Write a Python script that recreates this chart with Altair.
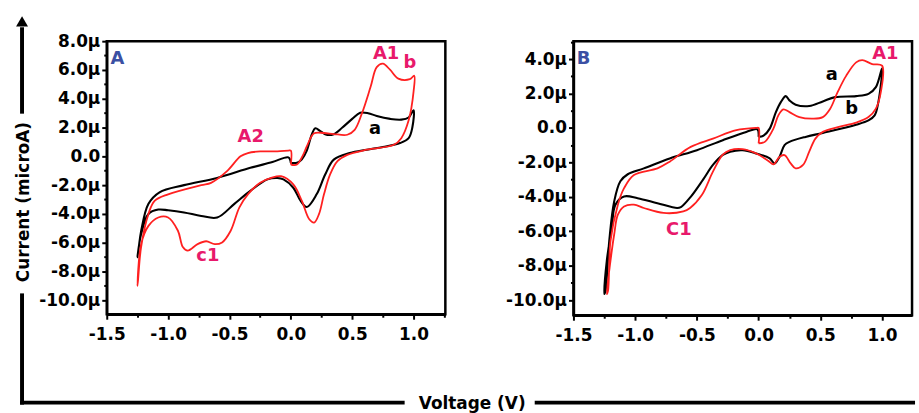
import altair as alt
import pandas as pd

# ---------------- data ----------------
# Panel A, curve a (black)
A_black_V = [0.00, 0.05, 0.09, 0.13, 0.17, 0.20, 0.24, 0.29, 0.35, 0.42, 0.50, 0.565, 0.63, 0.70, 0.81, 0.90, 0.96, 1.00,
             0.99, 0.96, 0.89, 0.75, 0.62, 0.48, 0.35, 0.28, 0.21, 0.13, 0.08, 0.02, -0.06, -0.11, -0.19, -0.33, -0.46,
             -0.60, -0.73, -0.87, -1.00, -1.08, -1.16, -1.22, -1.25,
             -1.24, -1.22, -1.16, -1.07, -0.87, -0.60, -0.33, -0.15, -0.02, 0.00]
A_black_I = [-0.45, -0.45, -0.20, 0.40, 1.50, 1.95, 1.75, 1.50, 1.54, 2.00, 2.60, 3.03, 3.00, 2.80, 2.60, 2.55, 2.70, 3.20,
             2.00, 1.26, 0.92, 0.65, 0.46, 0.23, -0.23, -1.26, -2.64, -3.52, -3.10, -2.18, -1.60, -1.50, -1.60, -2.40, -3.30,
             -4.25, -4.14, -3.90, -3.75, -3.70, -4.00, -5.40, -7.00,
             -6.40, -5.20, -3.30, -2.50, -2.00, -1.50, -0.80, -0.40, -0.07, -0.45]

# Panel A, curve b (red)
A_red_V = [0.00, 0.05, 0.10, 0.13, 0.19, 0.27, 0.35, 0.46, 0.52, 0.58, 0.65, 0.70, 0.75, 0.81, 0.876, 0.97, 1.005,
           1.00, 0.96, 0.90, 0.84, 0.62, 0.46, 0.38, 0.32, 0.27, 0.23, 0.19, 0.15, 0.09, 0.02, -0.08, -0.16, -0.25,
           -0.35, -0.42, -0.49, -0.56, -0.62, -0.69, -0.76, -0.84, -0.88, -0.92, -1.00, -1.08, -1.16, -1.22, -1.25,
           -1.245, -1.22, -1.16, -1.11, -1.00, -0.73, -0.65, -0.52, -0.41, -0.35, -0.25, -0.11, -0.02, 0.00, 0.00]
A_red_I = [-0.57, -0.57, 0.10, 0.69, 1.60, 1.62, 1.55, 1.50, 1.84, 3.00, 4.83, 6.20, 6.44, 6.00, 5.40, 5.36, 5.60,
           4.50, 2.50, 1.26, 0.80, 0.46, 0.10, -0.34, -1.26, -2.64, -4.00, -4.60, -4.37, -3.10, -1.95, -1.38, -1.50, -1.84,
           -2.64, -3.56, -5.17, -5.98, -6.10, -5.90, -6.10, -6.55, -6.30, -5.17, -4.25, -4.25, -4.83, -6.10, -9.00,
           -8.60, -6.30, -4.00, -3.10, -2.64, -2.00, -1.84, -1.03, 0.00, 0.23, 0.34, 0.34, 0.40, 0.40, -0.57]

# Panel B, curve a (black)
B_black_V = [0.00, 0.04, 0.09, 0.14, 0.18, 0.22, 0.25, 0.30, 0.41, 0.52, 0.62, 0.79, 0.89, 0.95, 1.00,
             0.97, 0.94, 0.89, 0.79, 0.52, 0.38, 0.25, 0.21, 0.17, 0.13, 0.09, -0.02, -0.13, -0.23, -0.29, -0.37,
             -0.45, -0.55, -0.63, -0.66, -0.82, -0.98, -1.09, -1.16, -1.19, -1.23, -1.25,
             -1.24, -1.21, -1.17, -1.12, -1.06, -0.93, -0.72, -0.50, -0.29, -0.10, -0.01, 0.00]
B_black_I = [-0.52, -0.45, -0.04, 0.92, 1.50, 1.85, 1.60, 1.35, 1.27, 1.54, 1.79, 1.85, 1.98, 2.37, 3.46,
             1.50, 0.73, 0.44, 0.19, -0.29, -0.52, -0.81, -1.00, -1.67, -2.06, -1.77, -1.48, -1.29, -1.38, -1.57, -2.15,
             -3.00, -4.00, -4.60, -4.65, -4.37, -4.08, -3.98, -4.46, -5.80, -7.73, -9.65,
             -9.46, -6.58, -4.27, -3.10, -2.69, -2.35, -1.77, -1.29, -0.71, -0.23, -0.08, -0.52]

# Panel B, curve b (red)
B_red_V = [0.00, 0.05, 0.12, 0.16, 0.20, 0.25, 0.33, 0.44, 0.52, 0.58, 0.64, 0.71, 0.79, 0.84, 0.92, 1.00,
           0.99, 0.95, 0.89, 0.79, 0.65, 0.52, 0.46, 0.41, 0.36, 0.30, 0.26, 0.21, 0.17, 0.12, 0.08, -0.02, -0.13,
           -0.23, -0.29, -0.37, -0.46, -0.555, -0.61, -0.77, -0.93, -1.01, -1.09, -1.14, -1.17, -1.20, -1.23,
           -1.22, -1.20, -1.14, -1.09, -1.01, -0.82, -0.72, -0.55, -0.37, -0.18, -0.02, 0.00, 0.00]
B_red_I = [-0.90, -0.81, -0.04, 0.73, 1.08, 0.92, 0.63, 0.54, 0.63, 1.12, 2.08, 3.04, 3.81, 3.94, 3.71, 3.62,
           2.08, 1.12, 0.63, 0.31, 0.06, -0.23, -0.62, -1.38, -2.15, -2.35, -2.06, -1.58, -1.67, -2.12, -1.92, -1.48, -1.23,
           -1.29, -1.55, -2.54, -3.90, -4.65, -4.85, -4.94, -4.65, -4.46, -4.56, -5.04, -6.19, -7.73, -9.65,
           -9.46, -6.58, -4.46, -3.50, -2.73, -2.35, -1.96, -1.10, -0.62, -0.13, 0.00, 0.00, -0.90]

# Annotations
A_note_text = ["A", "A1", "b", "a", "A2", "c1"]
A_note_V = [-1.413, 0.776, 0.971, 0.687, -0.327, -0.676]
A_note_I = [6.76, 7.10, 6.48, 1.93, 1.31, -6.90]
B_note_text = ["B", "A1", "a", "b", "C1"]
B_note_V = [-1.418, 1.027, 0.593, 0.754, -0.646]
B_note_I = [4.03, 4.32, 3.05, 1.10, -5.94]

FONT = "DejaVu Sans"
PINK = "#e8196b"
BLUE = "#3b50a3"
RED = "#ff2020"
A_note_color = [BLUE, PINK, PINK, "black", PINK, PINK]
B_note_color = [BLUE, PINK, "black", "black", PINK]

X_TICKS = [-1.5, -1.25, -1.0, -0.75, -0.5, -0.25, 0.0, 0.25, 0.5, 0.75, 1.0, 1.25]

Y_LABEL = ("datum.value % 2 != 0 ? '' : (datum.value == 0 ? '0.0' : "
           "(datum.value < 0 ? '-' : '') + format(abs(datum.value), '.1f') + 'μ')")
X_LABEL = ("abs(datum.value * 2 - round(datum.value * 2)) > 0.01 ? '' : "
           "(datum.value < 0 ? '-' : '') + format(abs(datum.value), '.1f')")


def curve_df(V, I):
    return pd.DataFrame({"V": V, "I": I, "k": list(range(len(V)))})


def enc_x(dom):
    return alt.X("V:Q", scale=alt.Scale(domain=dom, nice=False, zero=False),
                 axis=alt.Axis(title=None, values=X_TICKS, labelExpr=X_LABEL, labelFlush=False,
                               labelOverlap=False, labelPadding=7,
                               tickSize={"condition": {"test": "abs(datum.value * 2 - round(datum.value * 2)) > 0.01",
                                                       "value": 3}, "value": 5}))


def enc_y(dom, vals):
    return alt.Y("I:Q", scale=alt.Scale(domain=dom, nice=False, zero=False),
                 axis=alt.Axis(title=None, values=vals, labelExpr=Y_LABEL, labelFlush=False,
                               labelOverlap=False, labelPadding=2,
                               tickSize={"condition": {"test": "datum.value % 2 != 0", "value": 3}, "value": 5}))


def panel(bV, bI, rV, rI, nT, nV, nI, nC, xdom, ydom, yvals, w, h, extra=None):
    black = alt.Chart(curve_df(bV, bI)).mark_line(color="black", strokeWidth=2.1,
                                                  interpolate="catmull-rom").encode(
        x=enc_x(xdom), y=enc_y(ydom, yvals), order=alt.Order("k:Q"))
    red = alt.Chart(curve_df(rV, rI)).mark_line(color=RED, strokeWidth=1.8,
                                                interpolate="catmull-rom").encode(
        x=enc_x(xdom), y=enc_y(ydom, yvals), order=alt.Order("k:Q"))
    notes = alt.Chart(pd.DataFrame({"V": nV, "I": nI, "t": nT, "c": nC})).mark_text(
        font=FONT, fontWeight="bold", fontSize=18, align="center", baseline="middle").encode(
        x=enc_x(xdom), y=enc_y(ydom, yvals), text="t:N", color=alt.Color("c:N", scale=None))
    layers = [black, red, notes]
    if extra:
        layers += extra
    return alt.layer(*layers).properties(width=w, height=h)


one = alt.Data(values=[{"d": 1}])
rule_style = dict(color="black", strokeWidth=4)
decor = [
    alt.Chart(one).mark_rule(**rule_style).encode(x=alt.value(-85.3), y=alt.value(-14), y2=alt.value(73)),
    alt.Chart(one).mark_point(shape="triangle-up", filled=True, color="black", size=144, opacity=1).encode(
        x=alt.value(-85.3), y=alt.value(-20)),
    alt.Chart(one).mark_rule(**rule_style).encode(x=alt.value(-85.3), y=alt.value(254), y2=alt.value(366)),
    alt.Chart(one).mark_rule(**rule_style).encode(x=alt.value(-87.3), x2=alt.value(300), y=alt.value(364)),
    alt.Chart(one).mark_rule(**rule_style).encode(x=alt.value(431), x2=alt.value(814), y=alt.value(364)),
    alt.Chart(one).mark_text(text="Current (microA)", font=FONT, fontWeight="bold", fontSize=17, angle=270,
                             align="center", baseline="middle", color="black").encode(
        x=alt.value(-83.5), y=alt.value(162)),
    alt.Chart(one).mark_text(text="Voltage (V)", font=FONT, fontWeight="bold", fontSize=17,
                             align="center", baseline="middle", color="black").encode(
        x=alt.value(368), y=alt.value(365)),
]

panelA = panel(A_black_V, A_black_I, A_red_V, A_red_I, A_note_text, A_note_V, A_note_I, A_note_color,
               [-1.5, 1.259], [-10.97, 8.0], list(range(-10, 9)), 341, 275, extra=decor)
panelB = panel(B_black_V, B_black_I, B_red_V, B_red_I, B_note_text, B_note_V, B_note_I, B_note_color,
               [-1.5, 1.243], [-10.88, 5.04], list(range(-10, 6)), 341, 276)

chart = alt.hconcat(panelA, panelB, spacing=129, bounds="flush").properties(
    padding={"left": 13.5, "top": 13, "right": 0, "bottom": 0},
    background="white",
).configure_view(
    stroke="black", strokeWidth=2.5
).configure_axis(
    domainColor="black", domainWidth=2.5, tickColor="black", tickWidth=2,
    labelFont=FONT, labelFontWeight="bold", labelFontSize=17, labelColor="black",
    grid=False
)

chart.save("out.html", embed_options={"renderer": "svg", "actions": False})
